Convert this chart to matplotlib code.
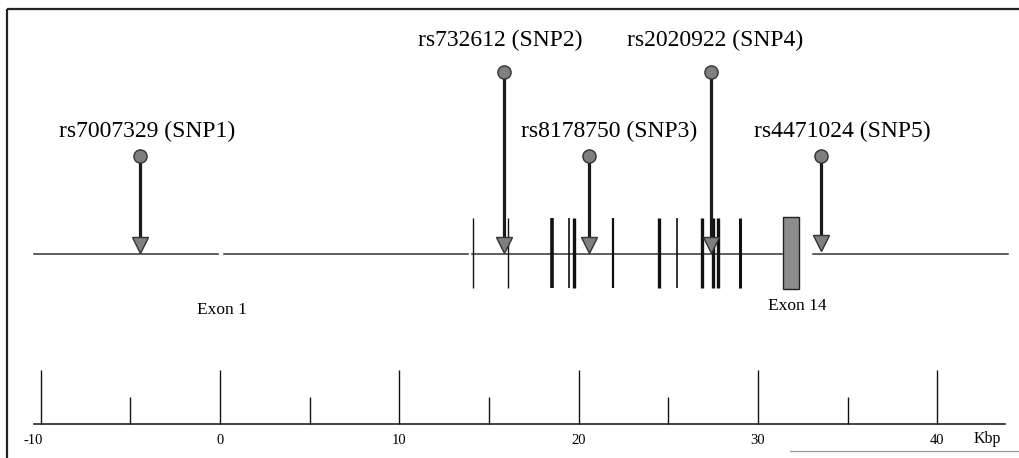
import matplotlib
matplotlib.use("Agg")
import matplotlib.pyplot as plt
from matplotlib.patches import Rectangle

plt.rcParams['font.family'] = ['Liberation Serif', 'DejaVu Serif']

# SNPs: name, position (kbp)
snp_names = ["rs7007329 (SNP1)", "rs732612 (SNP2)", "rs8178750 (SNP3)",
             "rs2020922 (SNP4)", "rs4471024 (SNP5)"]
snp_pos = [-4.46, 15.84, 20.6, 27.4, 33.5]
snp_tall = [False, True, False, True, False]

# small exons (kbp) and the line width they are drawn with
exon_pos = [14.1, 16.05, 18.5, 19.45, 19.75, 21.9, 24.5, 25.5, 26.9, 27.5, 27.8, 29.0]
exon_lw = [1.0, 1.0, 2.6, 1.2, 2.4, 1.6, 2.4, 1.2, 2.4, 2.4, 2.4, 2.2]
exon14 = (31.4, 32.3)

# gene line pieces (kbp)
gene_segments = [(-10.37, -0.11), (0.22, 13.83), (14.05, 31.34), (33.07, 43.95)]

major_ticks = [-10, 0, 10, 20, 30, 40]
minor_ticks = [-5, 5, 15, 25, 35]

# scale: x pixel = 220 + 17.93 * kbp
px = 17.93
x0 = -220 / px
x1 = (1020 - 220) / px

fig = plt.figure(figsize=(10.2, 4.58), dpi=100)
ax = fig.add_axes([0, 0, 1, 1])
ax.set_xlim(x0, x1)
ax.set_ylim(458, 0)
ax.axis('off')

# frame
fx = (7 - 220) / px
ax.plot([fx, x1], [9, 9], color='#222222', lw=1.6, solid_capstyle='butt')
ax.plot([fx, fx], [9, 458], color='#222222', lw=1.6, solid_capstyle='butt')
ax.plot([(790 - 220) / px, x1], [451, 451], color='#999999', lw=0.9)

# gene line
gene_y = 254
for a, b in gene_segments:
    ax.plot([a, b], [gene_y, gene_y], color='#333333', lw=1.1)

# exons
for p, w in zip(exon_pos, exon_lw):
    ax.vlines(p, 218, 288, color='#111111', lw=w)
ax.add_patch(Rectangle((exon14[0], 217), exon14[1] - exon14[0], 72,
                       facecolor='#8c8c8c', edgecolor='#222222', lw=1.0, zorder=3))

ax.text(0.1, 310, "Exon 1", ha='center', va='center', fontsize=12.5)
ax.text(32.2, 306, "Exon 14", ha='center', va='center', fontsize=12.5)

# SNP markers
label_dx = [0.4, -0.2, 1.1, 0.2, 1.2]
for name, p, tall, dx in zip(snp_names, snp_pos, snp_tall, label_dx):
    top = 72 if tall else 156
    tip = 253 if p < 30 else 251
    ax.vlines(p, top, tip - 14, color='#1a1a1a', lw=2.3, zorder=4)
    ax.plot(p, tip - 8, marker='v', ms=12, mfc='#7f7f7f', mec='#333333',
            mew=1.0, zorder=5)
    ax.plot(p, top, marker='o', ms=9.5, mfc='#7f7f7f', mec='#333333',
            mew=1.0, zorder=5)
    ly = 40 if tall else 131
    ax.text(p + dx, ly, name, ha='center', va='center', fontsize=17)

# ruler
base_y = 424
ax.plot([-10.4, 43.8], [base_y, base_y], color='#222222', lw=1.2)
ax.vlines(major_ticks, 370, base_y, color='#111111', lw=1.0)
ax.vlines(minor_ticks, 397, base_y, color='#111111', lw=1.0)
for t in major_ticks:
    ax.text(t - (0.4 if t < 0 else 0), 441, str(t), ha='center', va='center', fontsize=10.5)
ax.text(42.8, 439, "Kbp", ha='center', va='center', fontsize=11.5)

fig.savefig("out.png", dpi=100)
